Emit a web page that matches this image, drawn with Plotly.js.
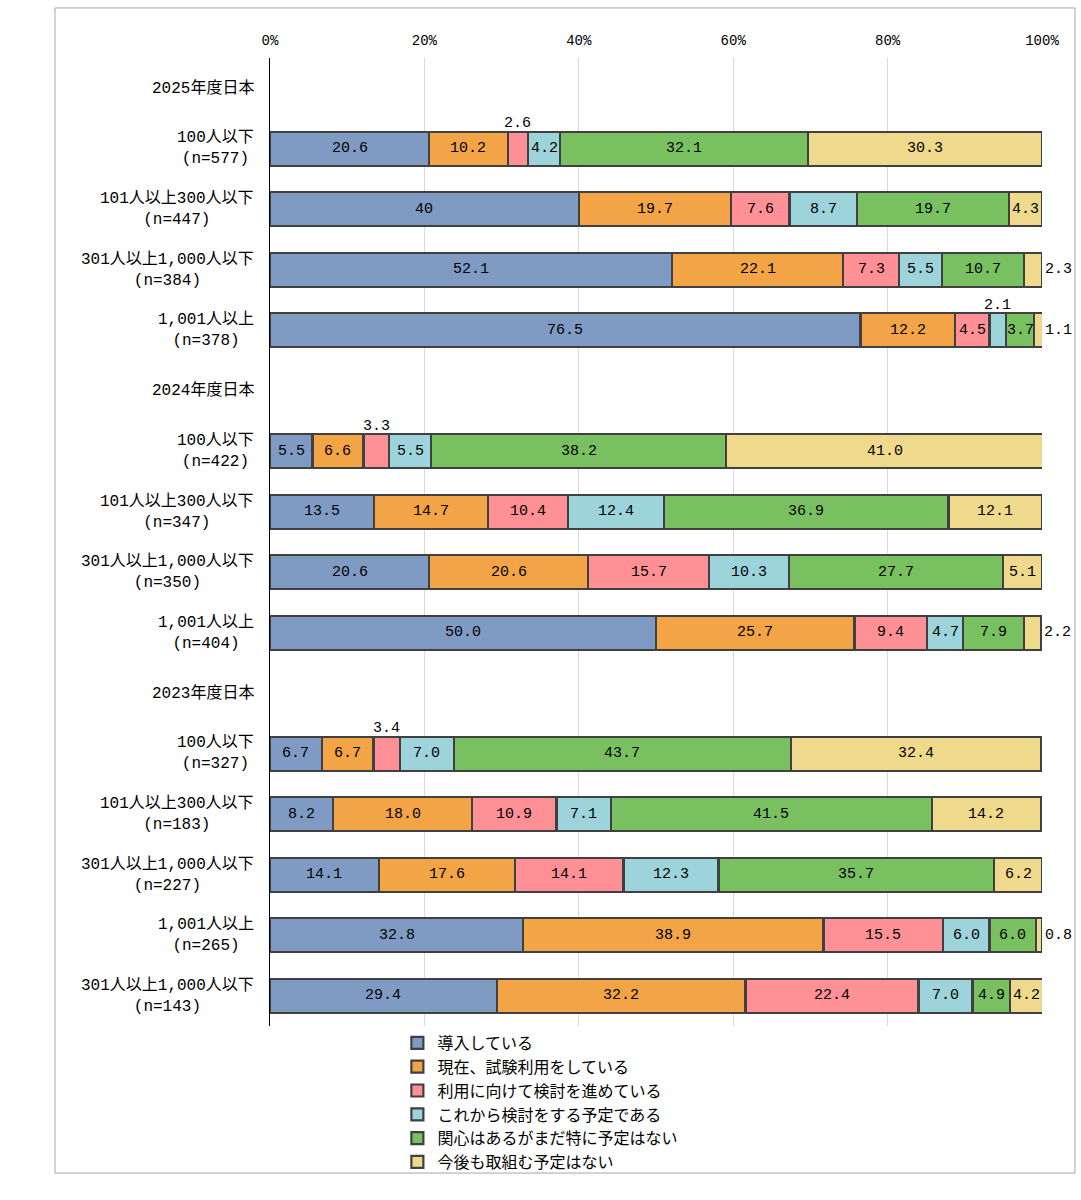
<!DOCTYPE html>
<html>
<head>
<meta charset="utf-8">
<script src="https://cdn.plot.ly/plotly-3.0.1.min.js"></script>
<style>html,body{margin:0;padding:0;background:#fff;}#chart{width:1081px;height:1200px;}</style>
</head>
<body>
<div id="chart"></div>
<script>
// ---- data ----
const rowLabels = [
  "2025年度日本",
  "100人以下\n(n=577)",
  "101人以上300人以下\n(n=447)",
  "301人以上1,000人以下\n(n=384)",
  "1,001人以上\n(n=378)",
  "2024年度日本",
  "100人以下\n(n=422)",
  "101人以上300人以下\n(n=347)",
  "301人以上1,000人以下\n(n=350)",
  "1,001人以上\n(n=404)",
  "2023年度日本",
  "100人以下\n(n=327)",
  "101人以上300人以下\n(n=183)",
  "301人以上1,000人以下\n(n=227)",
  "1,001人以上\n(n=265)",
  "301人以上1,000人以下\n(n=143)"
];
// label number format per row: "g" = as is, "f1" = one decimal
const rowFormat = ["", "g","g","g","g", "", "f1","f1","f1","f1", "", "f1","f1","f1","f1","f1"];

const seriesNames = [
  "導入している",
  "現在、試験利用をしている",
  "利用に向けて検討を進めている",
  "これから検討をする予定である",
  "関心はあるがまだ特に予定はない",
  "今後も取組む予定はない"
];
const s1 = [null, 20.6, 40,   52.1, 76.5, null, 5.5, 13.5, 20.6, 50.0, null, 6.7, 8.2, 14.1, 32.8, 29.4];
const s2 = [null, 10.2, 19.7, 22.1, 12.2, null, 6.6, 14.7, 20.6, 25.7, null, 6.7, 18.0, 17.6, 38.9, 32.2];
const s3 = [null, 2.6,  7.6,  7.3,  4.5,  null, 3.3, 10.4, 15.7, 9.4,  null, 3.4, 10.9, 14.1, 15.5, 22.4];
const s4 = [null, 4.2,  8.7,  5.5,  2.1,  null, 5.5, 12.4, 10.3, 4.7,  null, 7.0, 7.1,  12.3, 6.0,  7.0];
const s5 = [null, 32.1, 19.7, 10.7, 3.7,  null, 38.2, 36.9, 27.7, 7.9, null, 43.7, 41.5, 35.7, 6.0, 4.9];
const s6 = [null, 30.3, 4.3,  2.3,  1.1,  null, 41.0, 12.1, 5.1, 2.2,  null, 32.4, 14.2, 6.2,  0.8,  4.2];
const xTicks = [0, 20, 40, 60, 80, 100];
const xTickText = ["0%", "20%", "40%", "60%", "80%", "100%"];

// ---- styles ----
const colors = ["#7f9bc3", "#f2a446", "#ff9096", "#9dd3db", "#79c160", "#efd98c"];
const numFont = "Liberation Mono, Noto Sans CJK JP, monospace";
const jpFont = "Liberation Mono, Noto Sans CJK JP, sans-serif";

const series = [s1, s2, s3, s4, s5, s6];
const yCats = rowLabels.map(s => s.replace("\n", "<br>"));

const traces = series.map((vals, i) => ({
  type: "bar",
  orientation: "h",
  name: seriesNames[i],
  x: vals,
  y: yCats,
  marker: { color: colors[i], line: { color: "#404040", width: 2.2 } },
  hoverinfo: "skip"
}));

const annotations = [];
// row labels (centered multi-line)
yCats.forEach((lab, r) => {
  annotations.push({
    xref: "paper", yref: "y", x: 0, y: lab, xanchor: "right", xshift: -14,
    text: lab, showarrow: false, align: "center",
    font: { family: jpFont, size: 16, color: "#000" }
  });
});
// data labels
yCats.forEach((lab, r) => {
  if (rowFormat[r] === "") return;
  let cum = 0;
  series.forEach((vals, i) => {
    const v = vals[r];
    const txt = rowFormat[r] === "g" ? String(v) : v.toFixed(1);
    const a = { xref: "x", yref: "y", y: lab, text: txt, showarrow: false,
      font: { family: numFont, size: 15, color: "#000" } };
    if (v < 3.5 && i === series.length - 1) {
      a.x = Math.min(cum + v, 100); a.xanchor = "left"; a.xshift = 1;
    } else if (v < 3.5) {
      a.x = cum + v / 2; a.yshift = 25;
    } else {
      a.x = cum + v / 2;
    }
    annotations.push(a);
    cum += v;
  });
});

const layout = {
  width: 1081, height: 1200,
  margin: { l: 270, r: 39, t: 58, b: 174 },
  paper_bgcolor: "#fff", plot_bgcolor: "#fff",
  barmode: "stack",
  bargap: 0.44,
  showlegend: true,
  legend: {
    x: 0.165, xanchor: "left", y: 0.0, yanchor: "top",
    orientation: "v", traceorder: "normal", bgcolor: "rgba(0,0,0,0)",
    font: { family: jpFont, size: 16, color: "#000" },
    tracegroupgap: 0, itemwidth: 30
  },
  xaxis: {
    side: "top", range: [0, 100], tickmode: "array", tickvals: xTicks, ticktext: xTickText,
    showgrid: true, gridcolor: "#d9d9d9", gridwidth: 1.2,
    zeroline: false, showline: false, ticks: "", ticklabelstandoff: 9,
    tickfont: { family: numFont, size: 14, color: "#000" }
  },
  yaxis: {
    type: "category", autorange: "reversed", showticklabels: false,
    showline: true, linecolor: "#000", linewidth: 1, showgrid: false, ticks: "", zeroline: false
  },
  annotations: annotations,
  shapes: [{
    type: "rect", xref: "paper", yref: "paper",
    x0: -0.2785, x1: 1.0427, y0: -0.1519, y1: 1.0517,
    line: { color: "#a6a6a6", width: 1 }, fillcolor: "rgba(0,0,0,0)", layer: "below"
  }]
};

Plotly.newPlot("chart", traces, layout, { displayModeBar: false, staticPlot: true });
</script>
</body>
</html>
